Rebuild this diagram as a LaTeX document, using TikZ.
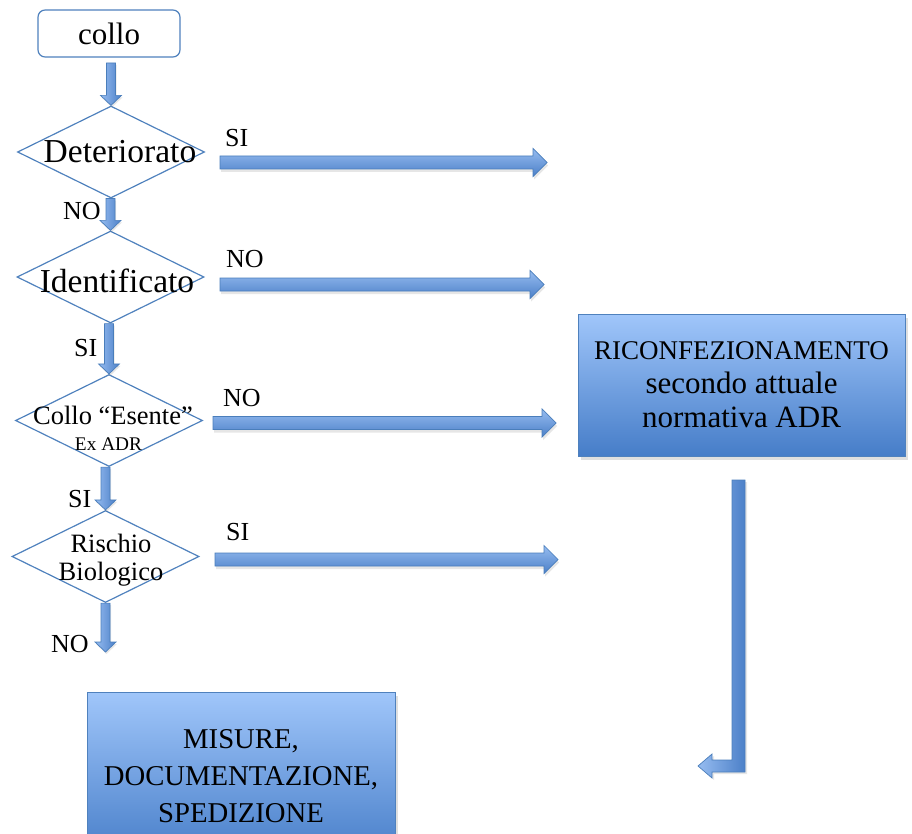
\documentclass[tikz,border=0pt]{standalone}
\usepackage{fontspec}
\setmainfont{Liberation Serif}
\usepackage{xcolor}
\usepackage{tikz}
\usetikzlibrary{shapes,arrows,positioning,calc,shadows}
\definecolor{flowblue}{RGB}{79, 129, 189}
\definecolor{arrowline}{RGB}{74, 126, 187}
\definecolor{arrowlight}{RGB}{150, 188, 240}
\definecolor{arrowdark}{RGB}{76, 128, 200}
\definecolor{boxlight}{RGB}{160, 198, 250}
\definecolor{boxdark}{RGB}{70, 125, 200}

\begin{document}
\begin{tikzpicture}[x=1pt, y=-1pt]
    \tikzstyle{startbox} = [draw=flowblue, fill=white, line width=1.2pt, rounded corners=2.5mm, minimum width=142pt, minimum height=47pt, inner sep=0pt, font=\fontsize{31}{36}\selectfont]
    \tikzstyle{decision} = [diamond, draw=flowblue, line width=1.2pt, minimum width=187pt, minimum height=92pt, inner sep=0pt]
    \tikzstyle{dtext} = [anchor=base, inner sep=0pt, font=\fontsize{33.5}{38}\selectfont]
    \tikzstyle{stext} = [anchor=base, inner sep=0pt, font=\fontsize{26.5}{30}\selectfont]
    \tikzstyle{answer} = [anchor=base west, inner sep=0pt, font=\fontsize{26}{30}\selectfont]
    \tikzstyle{actbox} = [draw=flowblue, line width=0.6pt, top color=boxlight, bottom color=boxdark, align=center, inner sep=0pt, drop shadow={shadow xshift=3pt, shadow yshift=-4pt, opacity=0.25}]
    \tikzstyle{rblock} = [draw=arrowline, line width=0.7pt, top color=arrowlight, bottom color=arrowdark, drop shadow={shadow xshift=1pt, shadow yshift=-3pt, opacity=0.2},
        to path={($(\tikztostart)+(0,-6.5)$) -- ($(\tikztotarget)+(-14,-6.5)$) -- ($(\tikztotarget)+(-14,-14)$) -- (\tikztotarget)
                 -- ($(\tikztotarget)+(-14,14)$) -- ($(\tikztotarget)+(-14,6.5)$) -- ($(\tikztostart)+(0,6.5)$) -- cycle}]
    \tikzstyle{dblock} = [draw=arrowline, line width=0.7pt, left color=arrowlight, right color=arrowdark, drop shadow={shadow xshift=1pt, shadow yshift=-2pt, opacity=0.2},
        to path={($(\tikztostart -| \tikztotarget)+(-4.5,0)$) -- ($(\tikztotarget)+(-4.5,-10)$) -- ($(\tikztotarget)+(-10.5,-10)$) -- (\tikztotarget)
                 -- ($(\tikztotarget)+(10.5,-10)$) -- ($(\tikztotarget)+(4.5,-10)$) -- ($(\tikztostart -| \tikztotarget)+(4.5,0)$) -- cycle}]

    \useasboundingbox (0, 0) rectangle (912, 834);

    \node[startbox] (collo) at (109, 33.5) {collo};
    \node[decision] (d1) at (111, 152) {};
    \node[decision] (d2) at (110.5, 277) {};
    \node[decision] (d3) at (109, 420.5) {};
    \node[decision] (d4) at (105.5, 556.5) {};

    \node[dtext] (t1) at (120, 163) {Deteriorato};
    \node[dtext] (t2) at (117, 292) {Identificato};
    \node[stext] (t3) at (113, 424) {Collo “Esente”};
    \node[stext, font=\fontsize{19.3}{22}\selectfont] (t3b) at (108.5, 450) {Ex ADR};
    \node[stext] (t4) at (111, 552) {Rischio};
    \node[stext] (t4b) at (111, 580) {Biologico};

    \node[actbox, minimum width=327pt, minimum height=142pt, font=\fontsize{31}{34}\selectfont] (riconf) at (741.5, 385)
        {{\fontsize{27}{34}\selectfont RICONFEZIONAMENTO}\\secondo attuale\\normativa ADR};
    \node[actbox, minimum width=308pt, minimum height=168pt, font=\fontsize{28.7}{37}\selectfont] (misure) at (241, 776)
        {MISURE,\\DOCUMENTAZIONE,\\SPEDIZIONE};

    % free ends of the block arrows
    \coordinate (a1) at (111, 63);
    \coordinate (a5) at (105.5, 652);
    \coordinate (h1a) at (220, 162.5);
    \coordinate (h1b) at (547, 162.5);
    \coordinate (h2a) at (220, 284.5);
    \coordinate (h2b) at (544, 284.5);
    \coordinate (h3a) at (213, 423);
    \coordinate (h3b) at (556, 423);
    \coordinate (h4a) at (215, 559.5);
    \coordinate (h4b) at (558, 559.5);
    \coordinate (b1) at (738.5, 480);
    \coordinate (b2) at (698, 766);

    \draw[dblock] (a1) to (d1.north);
    \draw[dblock] (d1.south) to (d2.north);
    \draw[dblock] (d2.south) to (d3.north);
    \draw[dblock] (d3.south) to (d4.north);
    \draw[dblock] (d4.south) to (a5);

    \draw[rblock] (h1a) to (h1b);
    \draw[rblock] (h2a) to (h2b);
    \draw[rblock] (h3a) to (h3b);
    \draw[rblock] (h4a) to (h4b);

    % return arrow
    \draw[draw=arrowline, line width=0.7pt, left color=arrowlight, right color=arrowdark, drop shadow={shadow xshift=2pt, shadow yshift=-2pt, opacity=0.2}]
        ($(b1)+(-6.5,0)$) -- ($(b1)+(6.5,0)$) -- ($(b1 |- b2)+(6.5,6)$) -- ($(b2)+(14,6)$) -- ($(b2)+(14,12)$) -- (b2)
        -- ($(b2)+(14,-12)$) -- ($(b2)+(14,-6)$) -- ($(b1 |- b2)+(-6.5,-6)$) -- cycle;

    \node[answer] (l1) at (225, 147) {SI};
    \node[answer] (l2) at (226, 267) {NO};
    \node[answer] (l3) at (223, 406) {NO};
    \node[answer] (l4) at (226, 540) {SI};
    \node[answer] (l5) at (63, 220) {NO};
    \node[answer] (l6) at (74, 356) {SI};
    \node[answer] (l7) at (68, 507) {SI};
    \node[answer] (l8) at (51, 652) {NO};
\end{tikzpicture}
\end{document}
